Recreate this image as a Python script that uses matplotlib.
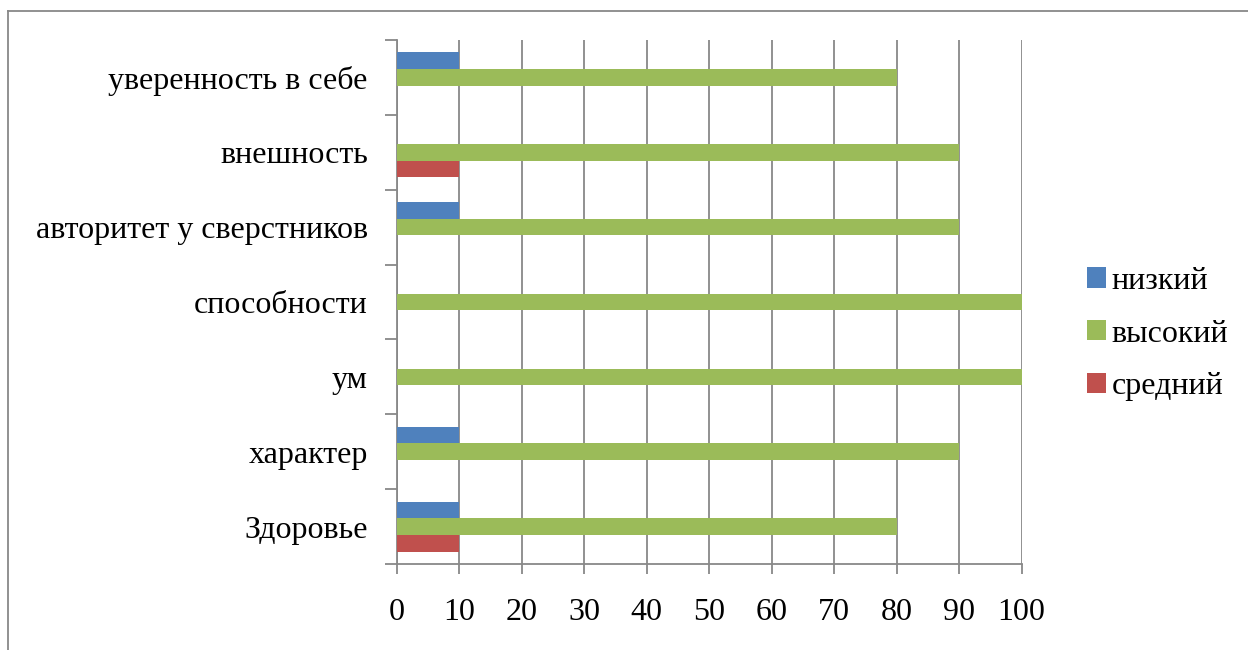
import matplotlib
matplotlib.use("Agg")
import matplotlib.pyplot as plt
from matplotlib.lines import Line2D
import numpy as np

categories = ["Здоровье", "характер", "ум", "способности",
              "авторитет у сверстников", "внешность", "уверенность в себе"]
low = [10, 10, 0, 0, 10, 0, 10]
high = [80, 90, 100, 100, 90, 90, 80]
mid = [10, 0, 0, 0, 0, 10, 0]
series_names = ["низкий", "высокий", "средний"]
colors = ["#4F81BD", "#9BBB59", "#C0504D"]
x_ticks = list(range(0, 101, 10))

plt.rcParams["font.family"] = ["Liberation Serif", "DejaVu Serif"]
FS = 23
GRID = "#888888"

W, H = 1248, 650
fig = plt.figure(figsize=(W / 100, H / 100), dpi=100)
ax = fig.add_axes([397 / W, 1 - 564 / H, (1021.5 - 397) / W, (564 - 40) / H])

y = np.arange(len(categories))
h = 0.223
for vals, off, name, c in zip([low, high, mid], [h, 0, -h], series_names, colors):
    ax.barh(y + off, vals, height=h, color=c, linewidth=0, label=name, zorder=3)

ax.set_xlim(0, 100)
ax.set_ylim(-0.5, len(categories) - 0.5)

ax.set_xticks(x_ticks)
ax.set_xticklabels([str(v) for v in x_ticks], fontsize=FS)
ax.tick_params(axis="x", direction="out", length=7.5, width=1.3, color=GRID, pad=17)
ax.xaxis.grid(True, color=GRID, linewidth=1.3, zorder=1)

ax.set_yticks(np.arange(-0.5, len(categories), 1.0))
ax.set_yticklabels([])
ax.tick_params(axis="y", which="major", direction="out", length=8.5, width=1.3, color=GRID)
ax.set_yticks(y, minor=True)
ax.set_yticklabels(categories, minor=True, fontsize=FS)
ax.tick_params(axis="y", which="minor", length=0, pad=21)

for side in ("top", "right"):
    ax.spines[side].set_visible(False)
for side in ("left", "bottom"):
    ax.spines[side].set_color(GRID)
    ax.spines[side].set_linewidth(1.3)
ax.set_axisbelow(True)

handles, labels = ax.get_legend_handles_labels()
fig.legend(handles, labels, loc="center left", bbox_to_anchor=(1087 / W, 1 - 334 / H),
           frameon=False, fontsize=FS, handlelength=0.6, handleheight=0.6,
           handletextpad=0.17, labelspacing=0.74, borderpad=0, borderaxespad=0)

# outer chart border (left and top edges visible)
fig.add_artist(Line2D([7.5 / W, 7.5 / W], [0, 1 - 10.5 / H], transform=fig.transFigure,
                      color=GRID, linewidth=1.3))
fig.add_artist(Line2D([7.5 / W, 1], [1 - 10.5 / H, 1 - 10.5 / H], transform=fig.transFigure,
                      color=GRID, linewidth=1.3))

fig.savefig("out.png", dpi=100, facecolor="white")
